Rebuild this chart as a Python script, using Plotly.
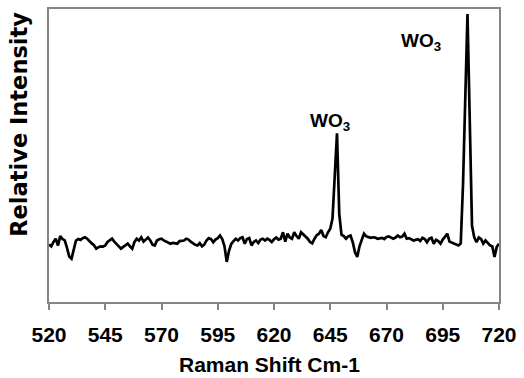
import plotly.graph_objects as go

raman_shift = list(range(520, 721))
intensity = [
    19.6, 19.0, 20.5, 21.6, 19.3, 22.5, 21.5, 21.0, 18.5, 15.5,   # 520-529
    14.8, 18.0, 21.0, 21.5, 21.2, 21.8, 22.1, 21.6, 20.6, 20.0,   # 530-539
    19.4, 18.2, 18.7, 19.0, 18.9, 19.3, 20.5, 21.0, 21.6, 20.6,   # 540-549
    19.8, 18.7, 18.2, 18.8, 19.3, 19.9, 19.0, 18.2, 20.5, 21.6,   # 550-559
    21.0, 22.1, 20.6, 21.2, 22.0, 21.0, 19.6, 19.3, 21.0, 21.4,   # 560-569
    21.6, 21.0, 20.7, 20.4, 19.9, 20.2, 20.0, 19.9, 20.8, 21.0,   # 570-579
    21.0, 21.6, 21.3, 20.6, 19.9, 19.5, 19.3, 20.1, 19.0, 19.6,   # 580-589
    21.0, 21.8, 21.5, 20.4, 21.3, 21.8, 22.7, 21.5, 19.0, 13.7,   # 590-599
    17.5, 19.8, 20.8, 21.6, 21.0, 21.8, 22.1, 19.9, 21.5, 21.8,   # 600-609
    19.3, 20.5, 21.0, 20.1, 21.3, 21.6, 21.0, 21.6, 21.2, 20.5,   # 610-619
    21.4, 22.0, 21.3, 21.6, 23.8, 20.6, 23.3, 22.0, 21.6, 23.8,   # 620-629
    22.5, 21.6, 23.8, 23.0, 22.5, 21.6, 20.5, 20.0, 21.6, 22.8,   # 630-639
    23.3, 24.6, 22.5, 22.1, 23.8, 25.0, 28.5, 45.0, 57.6, 30.0,   # 640-649
    23.0, 22.5, 21.6, 22.4, 22.7, 20.4, 17.0, 15.4, 19.0, 21.2,   # 650-659
    23.3, 22.4, 22.1, 21.9, 22.1, 22.0, 21.6, 21.8, 21.9, 21.5,   # 660-669
    22.2, 22.4, 21.9, 21.6, 22.0, 22.7, 22.1, 22.3, 23.3, 21.6,   # 670-679
    21.8, 21.5, 21.0, 21.2, 21.4, 20.8, 21.9, 21.5, 20.4, 21.6,   # 680-689
    21.9, 19.9, 21.2, 20.8, 19.9, 21.3, 22.4, 23.3, 20.6, 20.2,   # 690-699
    19.9, 19.6, 19.3, 20.0, 40.0, 68.0, 98.3, 62.0, 26.0, 22.1,   # 700-709
    20.4, 22.0, 21.5, 19.9, 21.0, 20.2, 19.3, 19.0, 15.4, 18.8,   # 710-719
    19.9,                                                          # 720
]
x_ticks = [520, 545, 570, 595, 620, 645, 670, 695, 720]
peak_labels = ["WO<sub>3</sub>", "WO<sub>3</sub>"]
peak_label_x = [644.9, 685.5]
peak_label_y = [61.4, 88.6]

FONT = "Liberation Sans, Arial, sans-serif"
GRAY = "#858585"

fig = go.Figure()
fig.add_trace(go.Scatter(
    x=raman_shift, y=intensity, mode="lines",
    line=dict(color="black", width=2.7), hoverinfo="skip", showlegend=False,
))

for t, xv, yv in zip(peak_labels, peak_label_x, peak_label_y):
    fig.add_annotation(x=xv, y=yv, xref="x", yref="y", text="<b>" + t + "</b>",
                       showarrow=False, font=dict(family=FONT, size=19, color="black"),
                       xanchor="center", yanchor="middle")

fig.add_annotation(x=0.489, y=-0.2136, xref="paper", yref="paper",
                   text="<b>Raman Shift Cm-1</b>", showarrow=False,
                   font=dict(family=FONT, size=21, color="black"),
                   xanchor="center", yanchor="middle")
fig.add_annotation(x=0, y=0.605, xref="paper", yref="paper", xshift=-30,
                   text="<b>Relative Intensity</b>", showarrow=False, textangle=-90,
                   font=dict(family="DejaVu Sans, sans-serif", size=22.5, color="black"),
                   xanchor="center", yanchor="middle")

fig.update_layout(
    width=524, height=378,
    margin=dict(l=49, r=22, t=7, b=76),
    paper_bgcolor="white", plot_bgcolor="white",
    font=dict(family=FONT, color="black"),
)
fig.update_xaxes(
    range=[520, 720], tickvals=x_ticks, ticktext=["<b>%d</b>" % v for v in x_ticks],
    ticks="outside", ticklen=6, tickcolor=GRAY, tickwidth=1.5,
    ticklabelstandoff=7,
    showline=True, linecolor=GRAY, linewidth=1.5, mirror=True,
    showgrid=False, zeroline=False,
    tickfont=dict(family=FONT, size=21, color="black"),
)
fig.update_yaxes(
    range=[0, 100], showticklabels=False, ticks="",
    showline=True, linecolor=GRAY, linewidth=1.5, mirror=True,
    showgrid=False, zeroline=False,
)

fig.write_html("out.html", config={"displayModeBar": False},
               post_script="document.body.style.margin='0px';")
